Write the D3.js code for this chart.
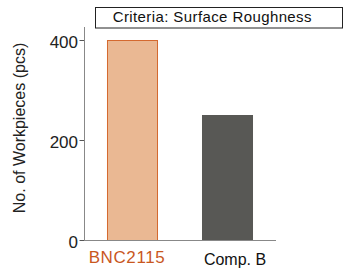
<!DOCTYPE html>
<html><head><meta charset="utf-8">
<script src="https://cdn.jsdelivr.net/npm/d3@7"></script>
<style>body{margin:0;background:#fff}svg{display:block}text{font-family:"Liberation Sans",Arial,sans-serif}</style>
</head><body><svg id="c" width="344" height="268"></svg>
<script>
const categories = ["BNC2115", "Comp. B"];
const values = [400, 250];
const yTicks = [0, 200, 400];
const title = "Criteria: Surface Roughness";
const yLabel = "No. of Workpieces (pcs)";
const fills = ["#eab893", "#585855"];
const strokes = ["#d4692f", "#585855"];
const labelColors = ["#c9571e", "#111"];

const svg = d3.select("#c");
const xb = d3.scaleBand().domain(categories).range([84, 276]).paddingInner(0.463).paddingOuter(0.242);
const y = d3.scaleLinear().domain([0, 400]).range([240, 40]);

svg.selectAll("rect.bar").data(values).join("rect")
  .attr("class","bar")
  .attr("x",(d,i)=>xb(categories[i])+0.5)
  .attr("y",d=>y(d)+0.5)
  .attr("width",xb.bandwidth()-1)
  .attr("height",d=>y(0)-y(d))
  .attr("fill",(d,i)=>fills[i])
  .attr("stroke",(d,i)=>strokes[i]).attr("stroke-width",1);

const ya = svg.append("g").attr("transform","translate(84,0)")
  .call(d3.axisLeft(y).tickValues(yTicks).tickSize(4.5).tickPadding(1.5));
ya.select(".domain").attr("stroke","#888").attr("d","M0.5,27V240.5");
ya.selectAll(".tick line").attr("stroke","#555");
ya.selectAll(".tick text").attr("font-size",17).attr("fill","#222").attr("dy","0.43em");

const xa = svg.append("g").attr("transform","translate(0,240)")
  .call(d3.axisBottom(xb).tickSize(0).tickPadding(0));
xa.select(".domain").attr("stroke","#888").attr("d","M84,0.5H276");
const dxs = [-5.5, 7.5];
xa.selectAll(".tick text").attr("fill",(d,i)=>labelColors[i])
  .attr("dy", 0).attr("y",(d,i)=>i===0?23.3:25)
  .attr("x",(d,i)=>dxs[i])
  .attr("font-size",(d,i)=>i===0?17:16)
  .attr("letter-spacing",(d,i)=>i===0?0.6:0);

svg.append("rect").attr("x",95.5).attr("y",7.5).attr("width",247).attr("height",20.5)
  .attr("fill","#fff").attr("stroke","#222");
svg.append("text").attr("x",112.7).attr("y",21.7).attr("text-anchor","start")
  .attr("font-size",15).attr("letter-spacing",0.4).attr("fill","#111").text(title);

svg.append("text").attr("transform","translate(24.5,128) rotate(-90)")
  .attr("text-anchor","middle").attr("font-size",16).attr("fill","#222").text(yLabel);
</script></body></html>
